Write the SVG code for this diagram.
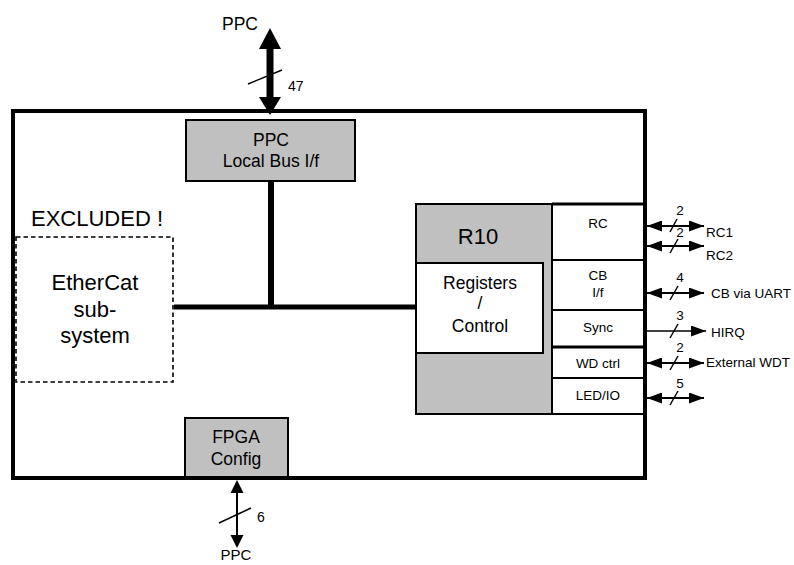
<svg xmlns="http://www.w3.org/2000/svg" width="794" height="565" viewBox="0 0 794 565">
<style>
text{font-family:"Liberation Sans",Arial,sans-serif;fill:#000}
.gray{fill:#c0c0c0;stroke:#000;stroke-width:2}
.white{fill:#fff;stroke:#000;stroke-width:2}
.m{text-anchor:middle}
.s{font-size:13.5px}
.n{font-size:14px}
.line{stroke:#000;stroke-width:2;fill:none}
.slash{stroke:#000;stroke-width:1.5}
</style>
<defs>
<marker id="ah" viewBox="0 0 15 11" refX="15" refY="5.5" markerWidth="15" markerHeight="11" markerUnits="userSpaceOnUse" orient="auto-start-reverse">
<path d="M0,0 L15,5.5 L0,11 Z" fill="#000"/>
</marker>
</defs>
<rect x="0" y="0" width="794" height="565" fill="#fff"/>

<g id="outer">
<rect x="13" y="111" width="632" height="367" fill="none" stroke="#000" stroke-width="4"/>
</g>

<g id="connectors">
<line x1="271" y1="181" x2="271" y2="309" stroke="#000" stroke-width="6"/>
<line x1="174" y1="307" x2="417" y2="307" stroke="#000" stroke-width="5"/>
<line x1="270" y1="46" x2="270" y2="100" stroke="#000" stroke-width="7"/>
<path d="M270,28 L281,49 L259,49 Z" fill="#000"/>
<path d="M270,115 L281,97 L259,97 Z" fill="#000"/>
<line class="slash" x1="248" y1="84" x2="282" y2="70"/>
<line class="line" x1="237" y1="488" x2="237" y2="540"/>
<path d="M237,480 L243.5,493 L230.5,493 Z" fill="#000"/>
<path d="M237,548 L243.5,535 L230.5,535 Z" fill="#000"/>
<line class="slash" x1="219" y1="523" x2="251" y2="508"/>
<line class="line" x1="647" y1="226" x2="704" y2="226" marker-start="url(#ah)" marker-end="url(#ah)"/>
<line class="slash" x1="670" y1="232" x2="677" y2="219"/>
<line class="line" x1="647" y1="246" x2="704" y2="246" marker-start="url(#ah)" marker-end="url(#ah)"/>
<line class="slash" x1="670" y1="253" x2="678" y2="239"/>
<line class="line" x1="647" y1="293" x2="704" y2="293" marker-start="url(#ah)" marker-end="url(#ah)"/>
<line class="slash" x1="670" y1="300" x2="678" y2="286"/>
<line x1="646" y1="331" x2="706" y2="331" stroke="#000" stroke-width="1.5" marker-end="url(#ah)"/>
<line class="slash" x1="670" y1="338" x2="678" y2="324"/>
<line class="line" x1="647" y1="363" x2="704" y2="363" marker-start="url(#ah)" marker-end="url(#ah)"/>
<line class="slash" x1="670" y1="370" x2="678" y2="356"/>
<line class="line" x1="647" y1="398" x2="704" y2="398" marker-start="url(#ah)" marker-end="url(#ah)"/>
<line class="slash" x1="670" y1="405" x2="678" y2="391"/>
</g>

<g id="ppc-top-label">
<text class="m" x="240" y="30" font-size="17.5">PPC</text>
<text x="288" y="91" class="n">47</text>
</g>

<g id="ppc-localbus">
<rect class="gray" x="186" y="120" width="169" height="61"/>
<text class="m" x="271" y="146" font-size="17.5">PPC</text>
<text class="m" x="271" y="167" font-size="17.5">Local Bus I/f</text>
</g>

<g id="ethercat">
<text class="m" x="97" y="226" font-size="22">EXCLUDED !</text>
<rect x="16" y="237" width="157" height="145" fill="#fff" stroke="#000" stroke-width="1.6" stroke-dasharray="4.5,3"/>
<text class="m" x="95" y="290" font-size="22">EtherCat</text>
<text class="m" x="95" y="317" font-size="22">sub-</text>
<text class="m" x="95" y="343" font-size="22">system</text>
</g>

<g id="r10">
<rect class="gray" x="416" y="204" width="136" height="210"/>
<text class="m" x="478" y="244" font-size="22">R10</text>
</g>

<g id="registers">
<rect class="white" x="416" y="263" width="127" height="90"/>
<text class="m" x="480" y="289" font-size="17.5">Registers</text>
<text class="m" x="480" y="309" font-size="17.5">/</text>
<text class="m" x="480" y="332" font-size="17.5">Control</text>
</g>

<g id="rc">
<rect class="white" x="552" y="204" width="93" height="56"/>
<text class="m s" x="598" y="228">RC</text>
</g>
<g id="cb">
<rect class="white" x="552" y="260" width="93" height="50"/>
<text class="m s" x="598" y="280">CB</text>
<text class="m s" x="598" y="297">I/f</text>
</g>
<g id="sync">
<rect class="white" x="552" y="310" width="93" height="37"/>
<text class="m s" x="598" y="332">Sync</text>
</g>
<g id="wdctrl">
<rect class="white" x="552" y="347" width="93" height="31"/>
<line x1="552" y1="347" x2="645" y2="347" stroke="#000" stroke-width="3"/>
<text class="m s" x="598" y="368">WD ctrl</text>
</g>
<g id="ledio">
<rect class="white" x="552" y="378" width="93" height="36"/>
<text class="m s" x="598" y="400">LED/IO</text>
</g>
<line x1="552" y1="204" x2="645" y2="204" stroke="#000" stroke-width="3"/>
<line x1="645" y1="111" x2="645" y2="478" stroke="#000" stroke-width="4"/>

<g id="right-labels">
<text class="m s" x="680" y="215">2</text>
<text class="s" x="706" y="237">RC1</text>
<text class="m s" x="680" y="237">2</text>
<text class="s" x="706" y="260">RC2</text>
<text class="m s" x="680" y="282">4</text>
<text class="s" x="711" y="298">CB via UART</text>
<text class="m s" x="680" y="320">3</text>
<text class="s" x="711" y="337">HIRQ</text>
<text class="m s" x="680" y="352">2</text>
<text class="s" x="706" y="367">External WDT</text>
<text class="m s" x="680" y="388">5</text>
</g>

<g id="fpga-config">
<rect class="gray" x="185" y="418" width="103" height="60"/>
<text class="m" x="236" y="443" font-size="17.5">FPGA</text>
<text class="m" x="236" y="465" font-size="17.5">Config</text>
</g>
<line x1="11" y1="478" x2="647" y2="478" stroke="#000" stroke-width="4"/>

<g id="ppc-bottom-label">
<text x="257" y="522" class="n">6</text>
<text class="m" x="236" y="560" font-size="15">PPC</text>
</g>
</svg>
